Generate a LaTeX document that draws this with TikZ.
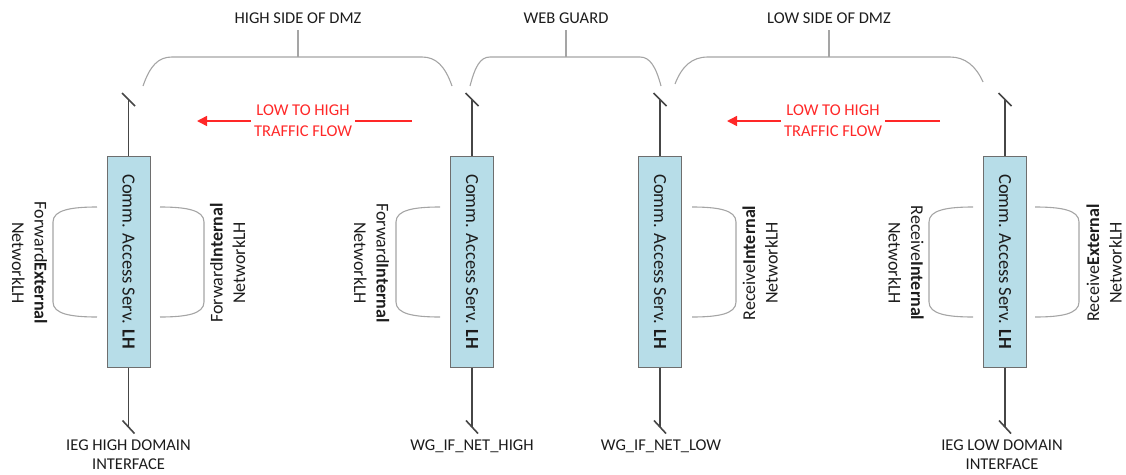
\documentclass[tikz,border=0pt]{standalone}
\usepackage{fontspec}
\setmainfont{Carlito}
\usetikzlibrary{arrows.meta}

\definecolor{boxfill}{RGB}{183,221,232}
\definecolor{boxline}{RGB}{110,110,110}
\definecolor{wire}{RGB}{70,70,70}
\definecolor{brace}{RGB}{165,165,165}
\definecolor{ink}{RGB}{28,28,28}
\definecolor{flow}{RGB}{255,40,40}

\tikzset{
  casbox/.style={draw=boxline, line width=1pt, fill=boxfill,
    minimum width=43pt, minimum height=211pt, inner sep=0pt},
  castext/.style={rotate=-90, font=\fontsize{18.5}{20}\selectfont, text=ink, inner sep=0pt},
  wireline/.style={draw=wire, line width=1.6pt},
  breakmark/.style={draw=wire, line width=1.6pt},
  bracebar/.style={draw=brace, line width=1.1pt},
  iflabel/.style={font=\fontsize{16.5}{19}\selectfont, text=ink, align=center, inner sep=0pt},
  sidelabel/.style={font=\fontsize{18}{22.5}\selectfont, text=ink, align=center, inner sep=0pt},
  zonelabel/.style={font=\fontsize{16.5}{20}\selectfont, text=ink, inner sep=0pt},
  flowlabel/.style={font=\fontsize{16.5}{20.5}\selectfont, text=flow, align=center,
    inner xsep=3pt, inner ysep=0pt},
  flowline/.style={draw=flow, line width=1.5pt},
  pics/lbrack/.style={code={
    \draw[bracebar] (0,-55) .. controls (-26,-55) and (-44,-52) .. (-44,-40)
      -- (-44,40) .. controls (-44,52) and (-26,55) .. (0,55);}},
  pics/rbrack/.style={code={
    \draw[bracebar] (0,-55) .. controls (26,-55) and (44,-52) .. (44,-40)
      -- (44,40) .. controls (44,52) and (26,55) .. (0,55);}},
}

\begin{document}
\begin{tikzpicture}[x=1pt, y=-1pt]
\path[use as bounding box] (0,0) rectangle (1126,474);

% access servers with their network wires and break marks
\foreach \n/\x in {1/128.5, 2/472, 3/660, 4/1005} {
  \node[casbox] (b\n) at (\x,261.5) {};
  \node[castext] (c\n) at (b\n) {Comm. Access Serv. \textbf{LH}};
  \coordinate (t\n) at (\x,99.5);
  \coordinate (u\n) at (\x,427);
  \draw[wireline] (t\n) -- (b\n.north);
  \draw[wireline] (b\n.south) -- (u\n);
  \draw[breakmark] ([shift={(-6.5,-6.5)}]t\n) -- ([shift={(6.5,6.5)}]t\n);
  \draw[breakmark] ([shift={(-6,-6.5)}]u\n) -- ([shift={(6,6.5)}]u\n);
}

% interface names
\node[iflabel] (i1) at (128.5,454.5) {IEG HIGH DOMAIN\\INTERFACE};
\node[iflabel] (i2) at (472,446) {WG\_IF\_NET\_HIGH};
\node[iflabel] (i3) at (661,446) {WG\_IF\_NET\_LOW};
\node[iflabel] (i4) at (1002,454.5) {IEG LOW DOMAIN\\INTERFACE};

% service brackets and their names
\pic at (97,262) {lbrack};
\pic at (160,262) {rbrack};
\pic at (440,262) {lbrack};
\pic at (692,262) {rbrack};
\pic at (973,262) {lbrack};
\pic at (1035,262) {rbrack};

\node[sidelabel, rotate=-90] (s1) at (29.5,263) {Forward\textbf{External}\\NetworkLH};
\node[sidelabel, rotate=90]  (s2) at (227.5,263) {Forward\textbf{Internal}\\NetworkLH};
\node[sidelabel, rotate=-90] (s3) at (371.5,263) {Forward\textbf{Internal}\\NetworkLH};
\node[sidelabel, rotate=90]  (s4) at (760,263) {Receive\textbf{Internal}\\NetworkLH};
\node[sidelabel, rotate=-90] (s5) at (906,263) {Receive\textbf{Internal}\\NetworkLH};
\node[sidelabel, rotate=90]  (s6) at (1104,263) {Receive\textbf{External}\\NetworkLH};

% zone braces
\node[zonelabel] (z1) at (298,18) {HIGH SIDE OF DMZ};
\node[zonelabel] (z2) at (566,18) {WEB GUARD};
\node[zonelabel] (z3) at (829,18) {LOW SIDE OF DMZ};

\draw[bracebar] (143,86) .. controls (150,66) and (158,57) .. (172,57) -- (422,57)
  .. controls (436,57) and (445,66) .. (452,86);
\draw[bracebar] (298,57) -- (298,30);
\draw[bracebar] (470,86) .. controls (475,67) and (480,57) .. (490,57) -- (640,57)
  .. controls (650,57) and (656,67) .. (661,86);
\draw[bracebar] (566,57) -- (566,30);
\draw[bracebar] (675,84) .. controls (682,66) and (692,57) .. (708,57) -- (950,57)
  .. controls (965,57) and (976,66) .. (983,82);
\draw[bracebar] (829,57) -- (829,30);

% traffic direction
\node[flowlabel] (f1) at (303,120.5) {LOW TO HIGH\\TRAFFIC FLOW};
\coordinate (fr1) at (412,121);
\coordinate (fl1) at (197,121);
\draw[flowline] (fr1) -- (f1.east |- fr1);
\draw[flowline, -{Triangle[length=10pt,width=10pt]}] (f1.west |- fl1) -- (fl1);

\node[flowlabel] (f2) at (833,120.5) {LOW TO HIGH\\TRAFFIC FLOW};
\coordinate (fr2) at (940,121);
\coordinate (fl2) at (727,121);
\draw[flowline] (fr2) -- (f2.east |- fr2);
\draw[flowline, -{Triangle[length=10pt,width=10pt]}] (f2.west |- fl2) -- (fl2);
\end{tikzpicture}
\end{document}
